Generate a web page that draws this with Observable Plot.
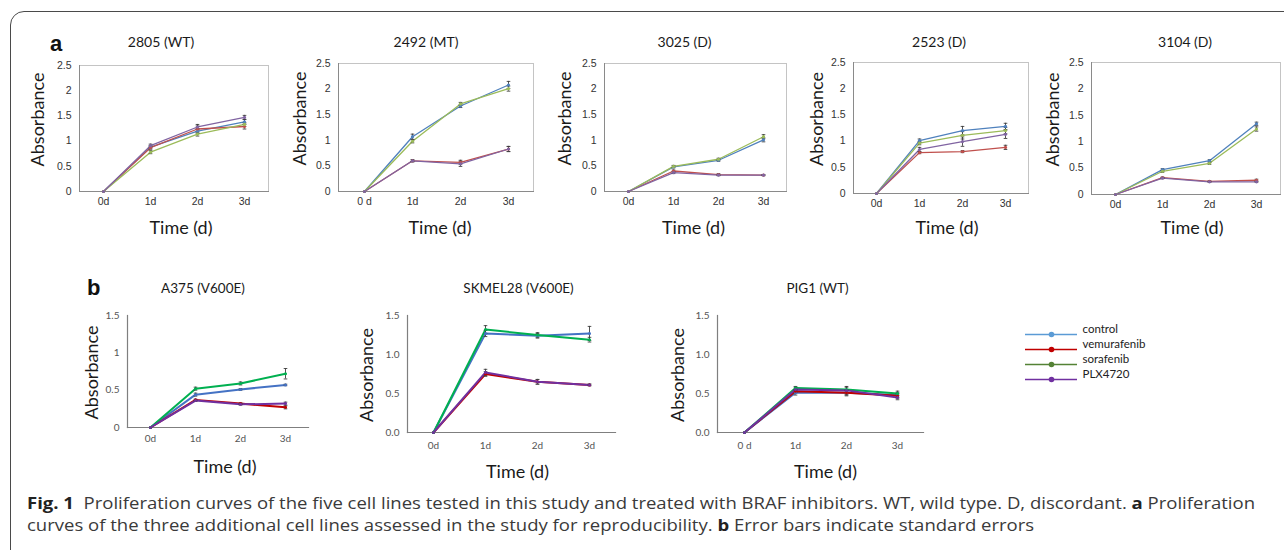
<!DOCTYPE html>
<html><head><meta charset="utf-8">
<script src="https://cdn.jsdelivr.net/npm/d3@7"></script>
<script src="https://cdn.jsdelivr.net/npm/@observablehq/plot@0.6"></script>
<style>
html,body{margin:0;padding:0;background:#fff;}
#fig{position:relative;width:1284px;height:550px;overflow:hidden;background:#fff;}
#box{position:absolute;left:10px;top:11px;width:1340px;height:620px;border:1.3px solid #4a4a4a;border-radius:14px;box-sizing:border-box;}
.lab{position:absolute;font-family:"Liberation Sans",Arial,sans-serif;font-weight:bold;font-size:22px;color:#111;line-height:1;}
.cap{position:absolute;left:27px;font-family:"Open Sans",sans-serif;font-size:16px;color:#3a3a3a;white-space:nowrap;transform-origin:0 50%;line-height:1;}
.cap b{color:#222;}
svg{position:absolute;}
</style></head><body><div id="fig"><div id="box"></div></div>
<script>
// ---------------- data ----------------
const days = ["0d", "1d", "2d", "3d"];
const treatments = ["control", "vemurafenib", "sorafenib", "PLX4720"];
const panelNames = ["2805 (WT)", "2492 (MT)", "3025 (D)", "2523 (D)", "3104 (D)", "A375 (V600E)", "SKMEL28 (V600E)", "PIG1 (WT)"];
const xTickLabels = ["0d", "1d", "2d", "3d"];
const xTickLabelsSpaced = ["0 d", "1d", "2d", "3d"];
const yTicksA = [0, 0.5, 1, 1.5, 2, 2.5];
const yTicksB = [0, 0.5, 1, 1.5];
const axisTitleX = "Time (d)";
const axisTitleY = "Absorbance";

// means: rows = treatments (control, vemurafenib, sorafenib, PLX4720), columns = days
const m2805 = [[0, 0.88, 1.20, 1.38], [0, 0.87, 1.24, 1.29], [0, 0.78, 1.14, 1.33], [0, 0.91, 1.28, 1.47]];
const se2805 = [[0, 0.03, 0.05, 0.05], [0, 0.03, 0.06, 0.05], [0, 0.03, 0.04, 0.04], [0, 0.03, 0.05, 0.04]];
const m2492 = [[0, 1.07, 1.67, 2.08], [0, 0.60, 0.57, 0.83], [0, 0.98, 1.71, 2.01], [0, 0.60, 0.54, 0.83]];
const se2492 = [[0, 0.05, 0.03, 0.07], [0, 0.02, 0.04, 0.05], [0, 0.03, 0.03, 0.05], [0, 0.02, 0.05, 0.05]];
const m3025 = [[0, 0.48, 0.61, 1.01], [0, 0.40, 0.33, 0.32], [0, 0.49, 0.63, 1.07], [0, 0.37, 0.32, 0.32]];
const se3025 = [[0, 0.02, 0.02, 0.04], [0, 0.02, 0.02, 0.01], [0, 0.02, 0.02, 0.04], [0, 0.02, 0.01, 0.01]];
const m2523 = [[0, 1.01, 1.20, 1.28], [0, 0.78, 0.80, 0.88], [0, 0.96, 1.11, 1.20], [0, 0.84, 0.99, 1.13]];
const se2523 = [[0, 0.03, 0.08, 0.06], [0, 0.02, 0.02, 0.04], [0, 0.03, 0.07, 0.06], [0, 0.04, 0.09, 0.08]];
const m3104 = [[0, 0.47, 0.64, 1.34], [0, 0.32, 0.25, 0.27], [0, 0.44, 0.59, 1.24], [0, 0.31, 0.24, 0.24]];
const se3104 = [[0, 0.02, 0.02, 0.03], [0, 0.01, 0.01, 0.02], [0, 0.02, 0.02, 0.04], [0, 0.01, 0.01, 0.01]];
const mA375 = [[0, 0.44, 0.51, 0.57], [0, 0.37, 0.32, 0.27], [0, 0.52, 0.59, 0.72], [0, 0.36, 0.31, 0.32]];
const seA375 = [[0, 0.02, 0.01, 0.01], [0, 0.01, 0.01, 0.02], [0, 0.02, 0.02, 0.07], [0, 0.01, 0.01, 0.02]];
const mSK28 = [[0, 1.27, 1.24, 1.27], [0, 0.75, 0.65, 0.61], [0, 1.32, 1.25, 1.19], [0, 0.77, 0.65, 0.61]];
const seSK28 = [[0, 0.04, 0.03, 0.09], [0, 0.03, 0.03, 0.01], [0, 0.05, 0.03, 0.03], [0, 0.04, 0.03, 0.01]];
const mPIG1 = [[0, 0.51, 0.51, 0.48], [0, 0.53, 0.51, 0.47], [0, 0.57, 0.55, 0.50], [0, 0.55, 0.54, 0.45]];
const sePIG1 = [[0, 0.03, 0.04, 0.03], [0, 0.02, 0.03, 0.03], [0, 0.02, 0.03, 0.03], [0, 0.03, 0.05, 0.03]];

// ---------------- styles / layout ----------------
const colorsA = ["#4F81BD", "#C0504D", "#9BBB59", "#8064A2"];
const colorsB = ["#4472C4", "#C00000", "#00B050", "#7030A0"];
const colorsLegend = ["#5B9BD5", "#C00000", "#548235", "#7030A0"];

const fmtA = d => String(d);
const fmtB1 = d => d.toFixed(1);

const panels = [
  {kind: "a", name: panelNames[0], means: m2805, ses: se2805, x0: 79, x1: 268, y0: 65, y1: 191, titleDx: -13, xlabDx: 7, ylabDx: -41, xLabels: xTickLabels},
  {kind: "a", name: panelNames[1], means: m2492, ses: se2492, x0: 338, x1: 533, y0: 63, y1: 191, titleDx: -10, xlabDx: 4, ylabDx: -38, xLabels: xTickLabelsSpaced},
  {kind: "a", name: panelNames[2], means: m3025, ses: se3025, x0: 604, x1: 786, y0: 63, y1: 191, titleDx: -11, xlabDx: -2, ylabDx: -39, xLabels: xTickLabels},
  {kind: "a", name: panelNames[3], means: m2523, ses: se2523, x0: 853, x1: 1028, y0: 62, y1: 193, titleDx: -2, xlabDx: 6, ylabDx: -36, xLabels: xTickLabels},
  {kind: "a", name: panelNames[4], means: m3104, ses: se3104, x0: 1091, x1: 1280, y0: 62, y1: 194, titleDx: -1, xlabDx: 6, ylabDx: -38, xLabels: xTickLabels},
  {kind: "b", name: panelNames[5], means: mA375, ses: seA375, x0: 127, x1: 308, y0: 315, y1: 427, titleDx: -15, xlabDx: 7, ylabDx: -35, xLabels: xTickLabels, fmt: fmtA},
  {kind: "b", name: panelNames[6], means: mSK28, ses: seSK28, x0: 407, x1: 615, y0: 315, y1: 432, titleDx: 7, xlabDx: 6, ylabDx: -40, xLabels: xTickLabels, fmt: fmtB1},
  {kind: "b", name: panelNames[7], means: mPIG1, ses: sePIG1, x0: 717, x1: 923, y0: 315, y1: 432, titleDx: -3, xlabDx: 5, ylabDx: -39, xLabels: xTickLabelsSpaced, fmt: fmtB1}
];

const capSymbol = {draw(ctx, size) { const w = Math.sqrt(size / Math.PI); ctx.moveTo(-w, 0); ctx.lineTo(w, 0); }};

function rowsOf(means, ses) {
  return treatments.flatMap((t, i) => days.map((d, j) => ({treatment: t, day: d, mean: means[i][j], se: ses[i][j]})));
}

const fig = document.getElementById("fig");

function drawPanel(p) {
  const L = 70, R = 15, T = 45, B = 60;
  const isA = p.kind === "a";
  const w = p.x1 - p.x0 + L + R, h = p.y1 - p.y0 + T + B;
  const rows = rowsOf(p.means, p.ses);
  const bars = rows.filter(r => r.se > 0);
  const titleY = isA ? 42 : 288;
  const xlabY = isA ? 228 : (p.y1 < 430 ? 467 : 472);
  const tickFont = isA ? "Liberation Sans, Arial, sans-serif" : "Lato, sans-serif";
  const marks = [];
  if (isA) {
    marks.push(Plot.frame({stroke: "#C4C4C4", strokeWidth: 1}));
    marks.push(Plot.frame({anchor: "left", stroke: "#8A8A8A"}));
    marks.push(Plot.frame({anchor: "bottom", stroke: "#8A8A8A"}));
  } else {
    marks.push(Plot.frame({anchor: "left", stroke: "#7f7f7f", strokeWidth: 1.2}));
    marks.push(Plot.frame({anchor: "bottom", stroke: "#7f7f7f", strokeWidth: 1.2}));
  }
  marks.push(Plot.axisY({ticks: isA ? yTicksA : yTicksB, tickFormat: isA ? fmtA : p.fmt, tickSize: 0, tickPadding: 8, label: null,
    fontSize: isA ? 10.5 : 10, fontFamily: tickFont}));
  marks.push(Plot.axisX({tickSize: 0, tickPadding: isA ? 6 : (p.y1 < 430 ? 7 : 9), label: null,
    tickFormat: d => p.xLabels[days.indexOf(d)], fontSize: isA ? 10.5 : 10, fontFamily: tickFont}));
  marks.push(Plot.line(rows, {x: "day", y: "mean", z: "treatment", stroke: "treatment", strokeWidth: isA ? 1.3 : 2}));
  marks.push(Plot.ruleX(bars, {x: "day", y1: d => d.mean - d.se, y2: d => d.mean + d.se, stroke: "#404040", strokeWidth: 0.9}));
  marks.push(Plot.dot(bars, {x: "day", y: d => d.mean + d.se, symbol: capSymbol, r: 1.8, fill: "none", stroke: "#404040", strokeWidth: 0.9}));
  marks.push(Plot.dot(bars, {x: "day", y: d => d.mean - d.se, symbol: capSymbol, r: 1.8, fill: "none", stroke: "#404040", strokeWidth: 0.9}));
  marks.push(Plot.dot(rows, {x: "day", y: "mean", fill: "treatment", r: isA ? 1.6 : 1.5}));
  marks.push(Plot.text([p.name], {text: d => d, frameAnchor: "top", lineAnchor: "middle", textAnchor: "middle", dy: titleY - p.y0, dx: p.titleDx,
    fontSize: isA ? 14 : 13.5, fontFamily: "Lato, sans-serif", fill: "#1a1a1a"}));
  marks.push(Plot.text([axisTitleY], {text: d => d, frameAnchor: "left", rotate: -90, textAnchor: "middle", lineAnchor: "middle",
    dx: p.ylabDx, dy: isA ? -9 : 1, fontSize: 18, fontFamily: "Lato, sans-serif", fill: "#1a1a1a"}));
  marks.push(Plot.text([axisTitleX], {text: d => d, frameAnchor: "bottom", lineAnchor: "middle", textAnchor: "middle",
    dy: xlabY - p.y1, dx: p.xlabDx, fontSize: 18, fontFamily: "Lato, sans-serif", fill: "#1a1a1a"}));
  const svg = Plot.plot({
    width: w, height: h, marginLeft: L, marginRight: R, marginTop: T, marginBottom: B,
    style: {overflow: "visible", background: "transparent", color: isA ? "#333" : "#555"},
    x: {type: "point", domain: days, padding: 0.5, axis: null},
    y: {domain: [0, isA ? 2.5 : 1.5], axis: null},
    color: {domain: treatments, range: isA ? colorsA : colorsB},
    marks
  });
  svg.style.left = (p.x0 - L) + "px";
  svg.style.top = (p.y0 - T) + "px";
  fig.appendChild(svg);
}

panels.forEach(drawPanel);

// legend
{
  const L = 0, R = 100, T = 13, B = 12;
  const leg = Plot.plot({
    width: 52 + L + R, height: 46 + T + B, marginLeft: L, marginRight: R, marginTop: T, marginBottom: B,
    style: {overflow: "visible", background: "transparent"},
    y: {type: "point", domain: treatments, padding: 0, axis: null},
    color: {domain: treatments, range: colorsLegend},
    marks: [
      Plot.ruleY(treatments, {y: d => d, stroke: d => d, strokeWidth: 1.6}),
      Plot.dot(treatments, {y: d => d, fill: d => d, r: 2.8}),
      Plot.text(treatments, {y: d => d, text: d => d, frameAnchor: "right", textAnchor: "start", dx: 5, dy: -5,
        fontSize: 11.5, fontFamily: "Lato, sans-serif", fill: "#222"})
    ]
  });
  leg.style.left = (1025 - L) + "px";
  leg.style.top = (333 - T) + "px";
  fig.appendChild(leg);
}

// panel letters
function addDiv(cls, html, left, top) {
  const d = document.createElement("div");
  d.className = cls; d.innerHTML = html;
  d.style.left = left + "px"; d.style.top = top + "px";
  fig.appendChild(d); return d;
}
addDiv("lab", "a", 50, 33);
addDiv("lab", "b", 87, 277);

// caption
const c1 = addDiv("cap", "<b>Fig. 1</b>&nbsp; Proliferation curves of the five cell lines tested in this study and treated with BRAF inhibitors. WT, wild type. D, discordant. <b>a</b> Proliferation", 27, 495);
const c2 = addDiv("cap", "curves of the three additional cell lines assessed in the study for reproducibility. <b>b</b> Error bars indicate standard errors", 27, 517);
const s = 1228 / c1.getBoundingClientRect().width;
c1.style.transform = `scaleX(${s})`;
c2.style.transform = `scaleX(${s})`;
</script></body></html>
